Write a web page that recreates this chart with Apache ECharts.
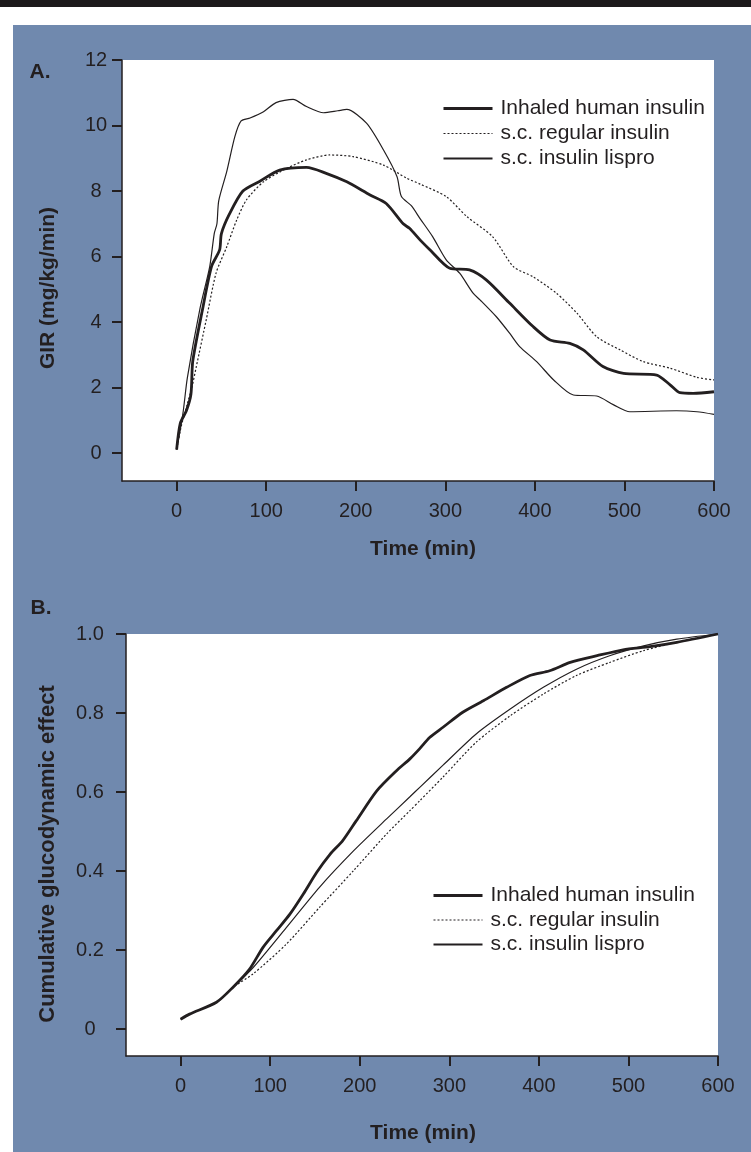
<!DOCTYPE html>
<html>
<head>
<meta charset="utf-8">
<script src="https://cdn.jsdelivr.net/npm/echarts@6/dist/echarts.min.js"></script>
<style>
  html, body { margin: 0; padding: 0; background: #fff; }
  #topbar { position: absolute; left: 0; top: 0; width: 751px; height: 7px; background: #1c1a1b; }
  #chart { position: absolute; left: 13px; top: 25px; width: 738px; height: 1127px; background: #7089ae; }
</style>
</head>
<body>
<div id="topbar"></div>
<div id="chart"></div>
<script>
// tick values / labels
var xTicks = [0, 100, 200, 300, 400, 500, 600];
var yTicksA = [0, 2, 4, 6, 8, 10, 12];
var yTicksB = [0, 0.2, 0.4, 0.6, 0.8, 1.0];
var yTickTextB = ['0', '0.2', '0.4', '0.6', '0.8', '1.0'];
var seriesNames = ['Inhaled human insulin', 's.c. regular insulin', 's.c. insulin lispro'];

// A. GIR (mg/kg/min) vs time (min)
var aInhaledT = [0, 4, 11, 16, 18, 29, 39, 48, 50, 59, 74, 93, 115, 145, 167, 190, 216, 234, 253, 260, 272, 283, 305, 327, 346, 372, 398, 417, 439, 454, 476, 499, 536, 551, 562, 577, 600];
var aInhaledV = [0.1, 0.9, 1.3, 1.8, 2.8, 4.4, 5.7, 6.2, 6.7, 7.3, 8.0, 8.3, 8.64, 8.72, 8.54, 8.28, 7.88, 7.62, 7.0, 6.86, 6.5, 6.2, 5.64, 5.59, 5.28, 4.57, 3.86, 3.45, 3.35, 3.15, 2.64, 2.43, 2.38, 2.08, 1.84, 1.82, 1.87];
var aRegularT = [0, 5, 12, 17, 22, 33, 44, 56, 67, 78, 97, 123, 145, 171, 197, 231, 257, 272, 301, 324, 353, 376, 398, 424, 447, 469, 495, 521, 551, 581, 600];
var aRegularV = [0.1, 0.8, 1.5, 2.0, 2.64, 4.06, 5.49, 6.3, 7.11, 7.73, 8.28, 8.69, 8.95, 9.1, 9.05, 8.79, 8.39, 8.21, 7.83, 7.22, 6.6, 5.69, 5.38, 4.88, 4.27, 3.55, 3.15, 2.79, 2.59, 2.31, 2.23];
var aLisproT = [0, 7, 12, 26, 37, 42, 45, 47, 56, 65, 72, 82, 97, 111, 130, 145, 164, 180, 190, 212, 231, 246, 251, 262, 272, 286, 301, 316, 331, 339, 357, 372, 383, 402, 421, 443, 469, 488, 506, 558, 581, 600];
var aLisproV = [0.1, 1.2, 2.3, 4.4, 5.7, 6.7, 7.0, 7.7, 8.6, 9.66, 10.14, 10.23, 10.42, 10.7, 10.8, 10.58, 10.39, 10.45, 10.49, 10.07, 9.25, 8.44, 7.83, 7.55, 7.15, 6.6, 5.9, 5.49, 4.88, 4.67, 4.16, 3.65, 3.25, 2.79, 2.23, 1.77, 1.74, 1.47, 1.26, 1.29, 1.26, 1.18];

// B. cumulative glucodynamic effect vs time (min)
var bInhaledT = [0, 10, 40, 58, 77, 92, 107, 122, 137, 152, 167, 181, 196, 219, 241, 256, 267, 278, 293, 315, 338, 364, 390, 412, 435, 465, 494, 524, 554, 600];
var bInhaledV = [0.025, 0.038, 0.068, 0.105, 0.152, 0.207, 0.249, 0.291, 0.342, 0.397, 0.443, 0.477, 0.527, 0.603, 0.654, 0.684, 0.71, 0.738, 0.764, 0.802, 0.831, 0.865, 0.895, 0.907, 0.928, 0.945, 0.96, 0.968, 0.979, 1.0];
var bRegularT = [0, 10, 40, 58, 81, 118, 155, 193, 230, 256, 267, 293, 330, 368, 405, 442, 479, 517, 554, 600];
var bRegularV = [0.025, 0.038, 0.068, 0.105, 0.14, 0.215, 0.308, 0.401, 0.494, 0.553, 0.578, 0.638, 0.726, 0.793, 0.848, 0.895, 0.928, 0.958, 0.979, 1.0];
var bLisproT = [0, 10, 40, 58, 81, 118, 155, 193, 230, 256, 267, 293, 330, 368, 405, 442, 479, 517, 554, 600];
var bLisproV = [0.025, 0.038, 0.068, 0.105, 0.156, 0.257, 0.359, 0.451, 0.532, 0.588, 0.612, 0.668, 0.747, 0.81, 0.865, 0.911, 0.945, 0.97, 0.987, 1.0];

function pairs(t, v) {
  var out = [];
  for (var i = 0; i < t.length; i++) out.push([t[i], v[i]]);
  return out;
}

var ink = '#231f20';
var font = "'Liberation Sans', Arial, Helvetica, sans-serif";
var styles = [
  { color: ink, width: 2.8, type: 'solid' },
  { color: ink, width: 1.2, type: [2, 2] },
  { color: ink, width: 1.2, type: 'solid' }
];
// legend sample widths differ from the plotted lines
var legendWidths = [3, 1.2, 2];

function xAxisOf(grid) {
  return {
    type: 'value', gridIndex: grid, min: -61, max: 600,
    splitLine: { show: false },
    axisLine: { show: true, onZero: false, lineStyle: { color: ink, width: 1.5 } },
    axisTick: { show: true, length: 10, customValues: xTicks, lineStyle: { color: ink, width: 2 } },
    axisLabel: { customValues: xTicks, margin: 20, color: ink, fontSize: 20, fontFamily: font }
  };
}
function yAxisOf(grid, min, max, ticks, margin, fmt) {
  return {
    type: 'value', gridIndex: grid, min: min, max: max,
    splitLine: { show: false },
    axisLine: { show: true, onZero: false, lineStyle: { color: ink, width: 1.5 } },
    axisTick: { show: true, length: 10, customValues: ticks, lineStyle: { color: ink, width: 2 } },
    axisLabel: { customValues: ticks, margin: margin, align: 'center', color: ink, fontSize: 20, fontFamily: font, formatter: fmt }
  };
}
function lineOf(name, idx, xi, data) {
  return {
    name: name, type: 'line', xAxisIndex: xi, yAxisIndex: xi,
    data: data, symbol: 'none', smooth: 0.25, silent: true,
    lineStyle: styles[idx], itemStyle: { color: ink }
  };
}
function legendOf(left, top, gap) {
  return {
    orient: 'vertical', left: left, top: top, padding: 0,
    itemWidth: 49, itemHeight: 14, itemGap: gap,
    itemStyle: { opacity: 0 },
    selectedMode: false,
    data: seriesNames.map(function (n, i) {
      return { name: n, lineStyle: { width: legendWidths[i], type: styles[i].type, color: ink } };
    }),
    textStyle: { color: ink, fontSize: 21, fontFamily: font, lineHeight: 20, padding: [0, 0, 0, 3] }
  };
}
function label(text, x, y, rot, size) {
  return {
    type: 'text', x: x, y: y, rotation: rot,
    style: {
      text: text, fill: ink, font: 'bold ' + size + 'px ' + font,
      align: 'center', verticalAlign: 'middle', textAlign: 'center', textVerticalAlign: 'middle'
    }
  };
}

var chart = echarts.init(document.getElementById('chart'));
var option = {
  animation: false,
  grid: [
    { left: 109, top: 35, width: 592, height: 421, show: true, backgroundColor: '#fff', borderWidth: 0 },
    { left: 113, top: 609, width: 592, height: 422, show: true, backgroundColor: '#fff', borderWidth: 0 }
  ],
  xAxis: [xAxisOf(0), xAxisOf(1)],
  yAxis: [
    yAxisOf(0, -0.855, 12, yTicksA, 26),
    yAxisOf(1, -0.068, 1.0, yTicksB, 36, function (v) { return yTickTextB[yTicksB.indexOf(v)] || ''; })
  ],
  legend: [legendOf(429, 73, 4), legendOf(419, 860, 3.5)],
  series: [
    lineOf(seriesNames[0], 0, 0, pairs(aInhaledT, aInhaledV)),
    lineOf(seriesNames[1], 1, 0, pairs(aRegularT, aRegularV)),
    lineOf(seriesNames[2], 2, 0, pairs(aLisproT, aLisproV)),
    lineOf(seriesNames[0], 0, 1, pairs(bInhaledT, bInhaledV)),
    lineOf(seriesNames[1], 1, 1, pairs(bRegularT, bRegularV)),
    lineOf(seriesNames[2], 2, 1, pairs(bLisproT, bLisproV))
  ],
  graphic: [
    label('A.', 27, 47, 0, 21),
    label('B.', 28, 583, 0, 21),
    label('GIR (mg/kg/min)', 35, 263, Math.PI / 2, 21),
    label('Cumulative glucodynamic effect', 35, 829, Math.PI / 2, 22),
    label('Time (min)', 410, 524, 0, 21),
    label('Time (min)', 410, 1108, 0, 21)
  ]
};
chart.setOption(option);
</script>
</body>
</html>
